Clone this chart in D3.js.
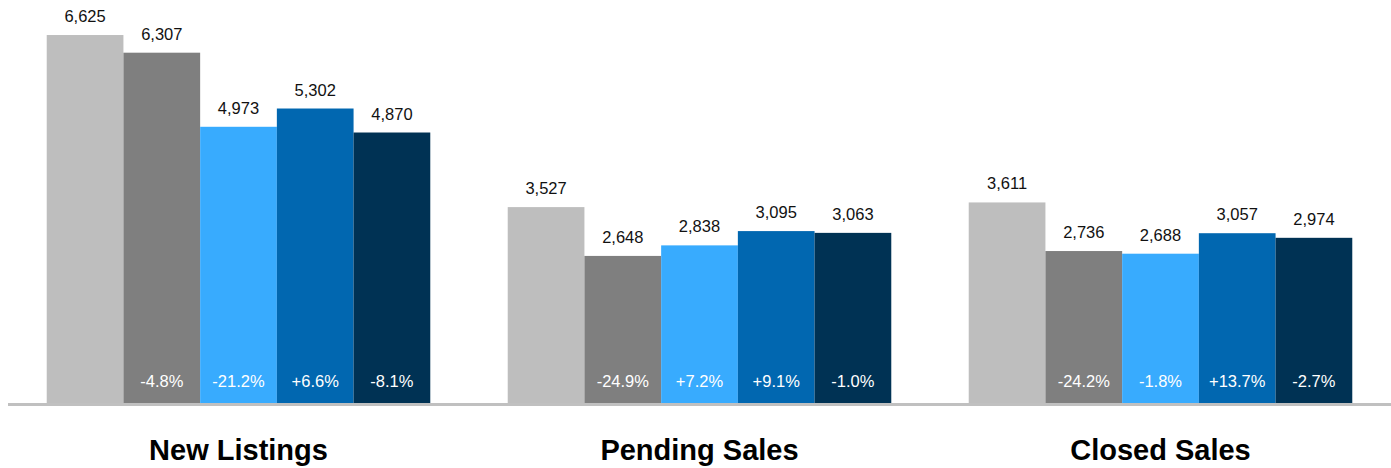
<!DOCTYPE html>
<html>
<head>
<meta charset="utf-8">
<script src="https://cdn.jsdelivr.net/npm/d3@7"></script>
<style>
  body { margin: 0; background: #fff; }
  svg { display: block; font-family: "Liberation Sans", Arial, sans-serif; }
</style>
</head>
<body>
<div id="chart"></div>
<script>
// Data
var categories = ["New Listings", "Pending Sales", "Closed Sales"];
var series = ["s1", "s2", "s3", "s4", "s5"];
var newListings = [6625, 6307, 4973, 5302, 4870];
var pendingSales = [3527, 2648, 2838, 3095, 3063];
var closedSales = [3611, 2736, 2688, 3057, 2974];
var newListingsChg = [null, "-4.8%", "-21.2%", "+6.6%", "-8.1%"];
var pendingSalesChg = [null, "-24.9%", "+7.2%", "+9.1%", "-1.0%"];
var closedSalesChg = [null, "-24.2%", "-1.8%", "+13.7%", "-2.7%"];
var colors = ["#bebebe", "#7f7f7f", "#38abfe", "#0167b0", "#003254"];

var values = [newListings, pendingSales, closedSales];
var changes = [newListingsChg, pendingSalesChg, closedSalesChg];

var width = 1391, height = 468;
var baseline = 403;

var svg = d3.select('#chart').append('svg')
    .attr('width', width)
    .attr('height', height);

// Scales
var x0 = d3.scaleBand().domain(categories).range([8, 1391])
    .paddingInner(0.168).paddingOuter(0.084);
var x1 = d3.scaleBand().domain(series).range([0, x0.bandwidth()]);
var y = d3.scaleLinear().domain([0, 7000]).range([baseline, 14.2]);

var groups = svg.selectAll('g.group')
    .data(categories)
    .enter().append('g')
    .attr('class', 'group')
    .attr('transform', function (d) { return 'translate(' + x0(d) + ',0)'; });

groups.each(function (cat, ci) {
    var g = d3.select(this);
    var rows = series.map(function (s, i) {
        return { s: s, i: i, v: values[ci][i], c: changes[ci][i] };
    });

    // Bars
    g.selectAll('rect')
        .data(rows)
        .enter().append('rect')
        .attr('x', function (d) { return x1(d.s); })
        .attr('y', function (d) { return y(d.v); })
        .attr('width', x1.bandwidth())
        .attr('height', function (d) { return baseline - y(d.v); })
        .attr('fill', function (d) { return colors[d.i]; });

    // Value labels
    g.selectAll('text.val')
        .data(rows)
        .enter().append('text')
        .attr('class', 'val')
        .attr('x', function (d) { return x1(d.s) + x1.bandwidth() / 2; })
        .attr('y', function (d) { return y(d.v) - 13; })
        .attr('text-anchor', 'middle')
        .style('font-size', '16.5px')
        .attr('fill', '#111')
        .text(function (d) { return d3.format(',')(d.v); });

    // Percent change labels
    g.selectAll('text.chg')
        .data(rows.filter(function (d) { return d.c; }))
        .enter().append('text')
        .attr('class', 'chg')
        .attr('x', function (d) { return x1(d.s) + x1.bandwidth() / 2; })
        .attr('y', 387)
        .attr('text-anchor', 'middle')
        .style('font-size', '16.5px')
        .attr('fill', '#fff')
        .text(function (d) { return d.c; });

    // Category title
    g.append('text')
        .attr('x', x0.bandwidth() / 2)
        .attr('y', 460)
        .attr('text-anchor', 'middle')
        .style('font-size', '29px')
        .style('font-weight', 'bold')
        .attr('fill', '#000')
        .text(cat);
});

// Baseline
svg.append('line')
    .attr('x1', 8).attr('x2', width)
    .attr('y1', baseline + 1.5).attr('y2', baseline + 1.5)
    .attr('stroke', '#c0c0c0')
    .attr('stroke-width', 3);
</script>
</body>
</html>
